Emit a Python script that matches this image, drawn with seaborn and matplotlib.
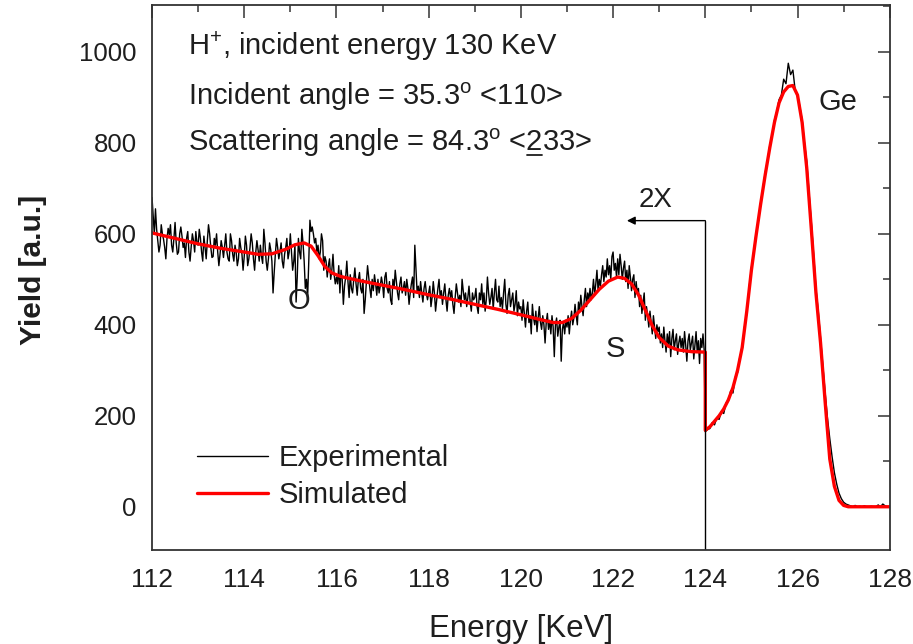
import numpy as np
import pandas as pd
import matplotlib
matplotlib.use("Agg")
import matplotlib.pyplot as plt
from matplotlib.lines import Line2D
import seaborn as sns
from matplotlib.ticker import MultipleLocator

# Measured yield below the Ge edge (2x scaled), one channel every 0.025 keV, 112-124 keV
exp_yield_low = [
    680, 640, 600, 655, 610, 585, 560, 575, 620, 600, 588, 570, 545, 590, 612, 598, 620, 575, 560, 590,
    625, 580, 555, 560, 600, 615, 595, 570, 580, 548, 590, 605, 560, 540, 572, 600, 585, 560, 605, 580,
    575, 610, 590, 560, 540, 595, 570, 545, 585, 620, 600, 570, 548, 550, 590, 575, 600, 560, 530, 555,
    585, 570, 548, 575, 600, 560, 545, 540, 600, 585, 555, 540, 575, 560, 530, 545, 590, 570, 556, 520,
    550, 595, 575, 530, 545, 570, 600, 580, 545, 520, 560, 585, 565, 540, 575, 550, 535, 610, 580, 540,
    520, 545, 580, 565, 540, 470, 515, 555, 590, 570, 545, 560, 580, 540, 525, 555, 570, 590, 545, 560,
    600, 560, 520, 540, 575, 450, 505, 590, 560, 545, 610, 580, 540, 480, 500, 460, 540, 630, 605, 615,
    600, 580, 590, 560, 575, 545, 560, 600, 585, 520, 550, 540, 505, 530, 545, 500, 520, 555, 510, 490,
    505, 490, 530, 470, 520, 500, 445, 485, 505, 540, 495, 460, 510, 480, 470, 500, 525, 490, 465, 500,
    515, 480, 470, 500, 425, 455, 495, 530, 505, 480, 460, 500, 475, 510, 490, 465, 500, 470, 485, 505,
    490, 460, 505, 515, 480, 470, 495, 455, 445, 500, 480, 520, 495, 470, 455, 490, 505, 470, 480, 495,
    465, 500, 480, 445, 470, 490, 505, 460, 575, 520, 470, 485, 460, 495, 470, 450, 480, 495, 470, 455,
    470, 485, 440, 460, 495, 470, 430, 455, 480, 500, 460, 475, 445, 470, 490, 455, 430, 465, 480, 460,
    475, 445, 425, 460, 490, 470, 450, 465, 440, 500, 475, 455, 470, 440, 460, 485, 450, 430, 470, 455,
    460, 480, 440, 425, 470, 455, 490, 445, 470, 430, 455, 505, 470, 445, 460, 480, 435, 470, 500, 455,
    450, 485, 440, 460, 435, 470, 500, 445, 425, 465, 480, 440, 455, 470, 430, 445, 475, 420, 450, 435,
    440, 410, 455, 425, 395, 430, 450, 405, 420, 380, 445, 415, 400, 430, 385, 415, 440, 405, 390, 420,
    400, 360, 405, 425, 390, 410, 380, 420, 395, 330, 400, 415, 375, 395, 410, 320, 390, 405, 380, 410,
    395, 420, 380, 410, 430, 400, 415, 445, 420, 400, 450, 430, 465, 440, 420, 455, 480, 440, 470, 455,
    480, 455, 470, 500, 465, 490, 520, 475, 500, 485, 510, 530, 495, 520, 505, 545, 510, 530, 500, 550,
    560, 520, 535, 505, 545, 510, 555, 530, 500, 525, 540, 495, 520, 480, 530, 505, 475, 500, 510, 460,
    495, 470, 480, 440, 465, 425, 450, 470, 410, 440, 420, 395, 430, 405, 380, 420, 395, 370, 400, 385,
    395, 360, 380, 350, 395, 365, 340, 380, 355, 385, 330, 370, 390, 345, 365, 380, 335, 360, 375, 350,
    370, 340, 385, 355, 320, 365, 380, 345, 360, 375, 325, 355, 385, 340, 365, 315, 370, 350, 380, 345,
]
# Measured yield across the Ge surface peak, one channel every 0.05 keV, 124-128 keV
exp_yield_high = [
    165, 170, 172, 185, 180, 196, 192, 210, 205, 228, 232, 255, 250, 285, 295, 330, 345, 395, 425, 480,
    525, 560, 600, 628, 668, 700, 735, 760, 795, 815, 850, 868, 895, 905, 940, 930, 975, 950, 960, 915,
    905, 880, 850, 800, 760, 690, 625, 555, 480, 430, 370, 310, 250, 195, 150, 110, 75, 50, 30, 18,
    10, 6, 4, 2, 0, 3, 0, 1, 0, 2, 0, 0, 1, 0, 0, 4, 0, 6, 2, 0, 0,
]
exp_energy = np.round(np.concatenate([
    np.linspace(112.0, 124.0, len(exp_yield_low), endpoint=False),
    np.linspace(124.0, 128.0, len(exp_yield_high)),
]), 3)
exp_yield = exp_yield_low + exp_yield_high

# Simulated spectrum (the step at 124 keV marks the 2x scaled region)
sim_energy = [112.0, 112.5, 113.0, 113.5, 114.0, 114.3, 114.6, 114.9, 115.1, 115.3,
              115.45, 115.6, 115.75, 115.9, 116.1, 116.5, 117.0, 117.5, 118.0, 118.5,
              119.0, 119.5, 120.0, 120.4, 120.7, 120.9, 121.1, 121.3, 121.5, 121.7,
              121.9, 122.1, 122.25, 122.4, 122.55, 122.7, 122.85, 123.0, 123.2, 123.4,
              123.7, 124.0, 124.0, 124.1, 124.2, 124.3, 124.4, 124.5, 124.6, 124.7,
              124.8, 124.9, 125.0, 125.1, 125.2, 125.3, 125.4, 125.5, 125.6, 125.7,
              125.8, 125.9, 126.0, 126.1, 126.2, 126.3, 126.4, 126.5, 126.6, 126.7,
              126.8, 126.9, 127.0, 127.1, 127.5, 128.0]
sim_yield = [602, 590, 578, 568, 560, 555, 556, 566, 576, 580,
             573, 552, 528, 514, 506, 497, 487, 477, 466, 456,
             445, 434, 422, 412, 405, 405, 414, 432, 455, 478,
             496, 505, 502, 490, 466, 432, 398, 372, 353, 345,
             341, 340, 168, 176, 188, 200, 215, 235, 262, 300,
             350, 430, 520, 595, 665, 730, 790, 845, 888, 912,
             924, 926, 905, 845, 745, 610, 470, 360, 230, 105,
             45, 14, 3, 0, 0, 0]

x_ticks = [112, 114, 116, 118, 120, 122, 124, 126, 128]
y_ticks = [0, 200, 400, 600, 800, 1000]

info_lines = [
    r"H$^{+}$, incident energy 130 KeV",
    r"Incident angle = 35.3$^{\mathrm{o}}$ <110>",
    r"Scattering angle = 84.3$^{\mathrm{o}}$ <233>",
]
underline_prefix = r"Scattering angle = 84.3$^{\mathrm{o}}$ <"
info_x = 112.78
info_y = [993, 883, 782]
peak_labels = [("O", 115.19, 453), ("S", 122.04, 347), ("Ge", 126.87, 890)]
scale_edge = 124.0
scale_arrow_end = 122.3
scale_arrow_y = 629

sns.set_theme(style="white")
plt.rcParams["font.family"] = ["Liberation Sans", "DejaVu Sans"]
plt.rcParams["mathtext.fontset"] = "custom"
plt.rcParams["mathtext.rm"] = "Liberation Sans"
plt.rcParams["mathtext.it"] = "Liberation Sans:italic"
plt.rcParams["mathtext.bf"] = "Liberation Sans:bold"

ink = "#1e1e1e"
text_size = 21

fig = plt.figure(figsize=(9.13, 6.44), dpi=100)
ax = fig.add_axes([0.1665, 0.146, 0.808, 0.8462])

exp_df = pd.DataFrame({"Energy": exp_energy, "Yield": exp_yield})
sim_df = pd.DataFrame({"Energy": sim_energy, "Yield": sim_yield})

sns.lineplot(data=exp_df, x="Energy", y="Yield", estimator=None, sort=False,
             color="black", linewidth=1.0, label="Experimental", ax=ax)
sns.lineplot(data=sim_df, x="Energy", y="Yield", estimator=None, sort=False,
             color="#ff0000", linewidth=2.4, label="Simulated", ax=ax)

ax.set_xlim(112, 128)
ax.set_ylim(-95, 1103)
ax.set_xticks(x_ticks)
ax.set_yticks(y_ticks)
ax.xaxis.set_minor_locator(MultipleLocator(1))
ax.yaxis.set_minor_locator(MultipleLocator(100))
ax.tick_params(which="both", direction="in", top=True, right=True,
               color="#333333", width=1.1)
ax.tick_params(which="major", length=9)
ax.tick_params(which="minor", length=5)
ax.tick_params(axis="y", labelsize=18.5, pad=11, labelcolor=ink)
ax.tick_params(axis="x", labelsize=19, pad=13, labelcolor=ink)
for sp in ax.spines.values():
    sp.set_color("#333333")
    sp.set_linewidth(1.3)

ax.set_xlabel("Energy [KeV]", fontsize=22.5, color=ink)
ax.set_ylabel("Yield [a.u.]", fontsize=21.5, fontweight="bold", color=ink)
ax.xaxis.set_label_coords(0.5, -0.118)
ax.yaxis.set_label_coords(-0.142, 0.514)

info_texts = []
for txt, yv in zip(info_lines, info_y):
    info_texts.append(ax.text(info_x, yv, txt, fontsize=text_size, color=ink,
                              va="baseline", ha="left"))

for name, xv, yv in peak_labels:
    ax.text(xv, yv, name, fontsize=text_size, color=ink, va="center", ha="center")

# 2x scaling marker
ax.plot([scale_edge, scale_edge], [scale_arrow_y, -95], color="black", linewidth=1.0)
ax.annotate("", xy=(scale_arrow_end, scale_arrow_y), xytext=(scale_edge, scale_arrow_y),
            arrowprops=dict(arrowstyle="-|>", color="black", lw=1.0,
                            mutation_scale=12, shrinkA=0, shrinkB=0))
ax.text(122.92, 674, "2X", fontsize=20, color=ink, va="center", ha="center")

leg = ax.legend(loc="center left", bbox_to_anchor=(0.061, 0.135), frameon=False,
                fontsize=21, handlelength=2.45, handletextpad=0.34,
                labelspacing=0.3, borderpad=0, borderaxespad=0)
for t in leg.get_texts():
    t.set_color(ink)

# underline the "2" of <233> in the scattering-angle line
renderer = fig.canvas.get_renderer()
probe = ax.text(info_x, info_y[-1], underline_prefix, fontsize=text_size, va="baseline", ha="left")
probe2 = ax.text(info_x, info_y[-1], underline_prefix + "2", fontsize=text_size, va="baseline", ha="left")
x_start = probe.get_window_extent(renderer).x1
x_end = probe2.get_window_extent(renderer).x1
probe.remove()
probe2.remove()
_, base_y = ax.transData.transform((info_x, info_y[-1]))
inv = fig.transFigure.inverted()
(fx0, fy0) = inv.transform((x_start + 1, base_y - 4))
(fx1, _) = inv.transform((x_end - 1, base_y - 4))
fig.add_artist(Line2D([fx0, fx1], [fy0, fy0], transform=fig.transFigure,
                      color=ink, linewidth=1.3))

fig.savefig("out.png", dpi=100)
